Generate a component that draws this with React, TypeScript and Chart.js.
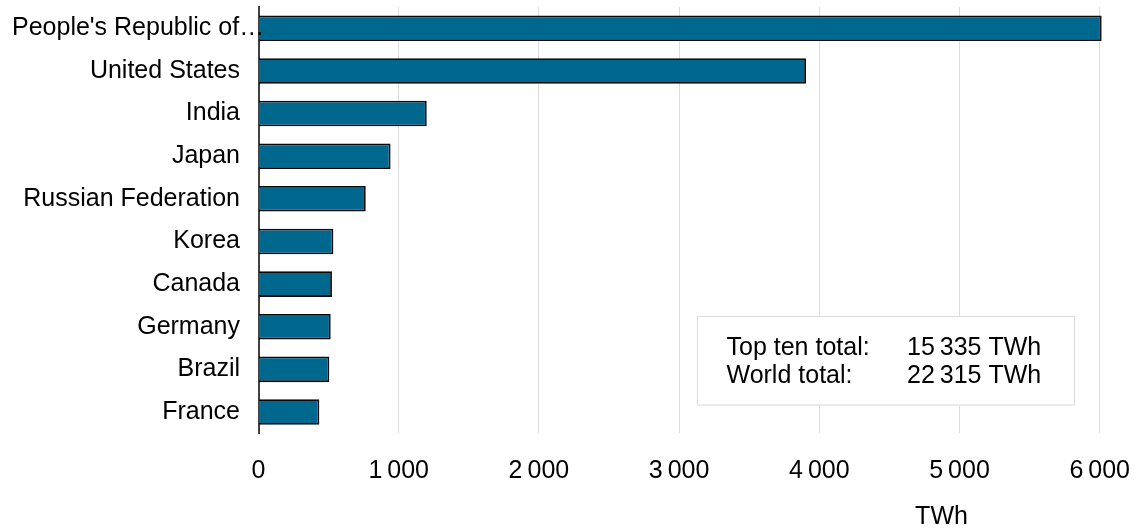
import React, { useEffect, useRef } from 'react';
import { Chart, registerables } from 'chart.js';

Chart.register(...registerables);

// ---- data ----
const categories = [
  "People's Republic of…",
  'United States',
  'India',
  'Japan',
  'Russian Federation',
  'Korea',
  'Canada',
  'Germany',
  'Brazil',
  'France',
];
const generationTWh = [6014, 3905, 1200, 942, 765, 534, 524, 515, 505, 434];
const xTickValues = [0, 1000, 2000, 3000, 4000, 5000, 6000];
const axisTitle = 'TWh';
const summaryLabels = ['Top ten total:', 'World total:'];
const summaryValues = ['15\u2009335 TWh', '22\u2009315 TWh'];

const FONT_FAMILY = "'Liberation Sans', Arial, Helvetica, sans-serif";
const FONT_SIZE = 25;
const BAR_COLOR = '#00678f';

const fmt = (v: number) => String(v).replace(/\B(?=(\d{3})+(?!\d))/g, '\u2009');

const overlayPlugin = {
  id: 'overlay',
  afterDraw(chart: any) {
    const { ctx, chartArea, scales } = chart;
    const y = scales.y;
    ctx.save();
    ctx.font = `${FONT_SIZE}px ${FONT_FAMILY}`;
    ctx.fillStyle = '#000';

    // first (truncated) category label, left aligned
    ctx.textAlign = 'left';
    ctx.textBaseline = 'middle';
    ctx.fillText(categories[0], 12, y.getPixelForTick(0));

    // summary box
    const bx = chartArea.left + 438.5;
    const by = chartArea.top + 309;
    const bw = 378;
    const bh = 89.5;
    ctx.fillStyle = '#ffffff';
    ctx.fillRect(bx, by, bw, bh);
    ctx.strokeStyle = '#dedede';
    ctx.lineWidth = 1.2;
    ctx.strokeRect(bx + 0.5, by + 0.5, bw - 1, bh - 1);
    ctx.fillStyle = '#000';
    ctx.textBaseline = 'alphabetic';
    summaryLabels.forEach((lab, i) => {
      const ty = by + 39 + i * 28.3;
      ctx.fillText(lab, bx + 29.5, ty);
      ctx.fillText(summaryValues[i], bx + 210, ty);
    });

    // axis title
    ctx.textAlign = 'center';
    ctx.fillText(axisTitle, 941.5, 523.5);
    ctx.restore();
  },
};

export default function App() {
  const canvasRef = useRef<HTMLCanvasElement | null>(null);

  useEffect(() => {
    if (!canvasRef.current) return;
    Chart.defaults.font.family = FONT_FAMILY;
    Chart.defaults.color = '#000';
    const chart = new Chart(canvasRef.current, {
      type: 'bar',
      data: {
        labels: categories,
        datasets: [
          {
            data: generationTWh,
            backgroundColor: BAR_COLOR,
            borderColor: '#0a0a0a',
            borderWidth: 1.8,
            categoryPercentage: 1,
            barPercentage: 0.6,
            clip: false,
          },
        ],
      },
      options: {
        indexAxis: 'y',
        animation: false,
        responsive: false,
        devicePixelRatio: 1,
        layout: { padding: { top: 7, right: 37.3, bottom: 0, left: 0 } },
        plugins: {
          legend: { display: false },
          tooltip: { enabled: false },
        },
        scales: {
          x: {
            type: 'linear',
            min: 0,
            max: 6000,
            afterBuildTicks: (scale: any) => {
              scale.ticks = xTickValues.map((v) => ({ value: v }));
            },
            afterFit: (scale: any) => {
              scale.height = 98.7;
              scale.paddingLeft = 0;
              scale.paddingRight = 0;
            },
            grid: {
              color: '#dcdcdc',
              lineWidth: 1,
              drawTicks: false,
            },
            border: { display: false },
            ticks: {
              padding: 23,
              maxRotation: 0,
              font: { size: FONT_SIZE, family: FONT_FAMILY },
              callback: (v: any) => fmt(Number(v)),
            },
          },
          y: {
            afterFit: (scale: any) => {
              scale.width = 258.5;
              scale.paddingTop = 0;
              scale.paddingBottom = 0;
            },
            grid: { display: false, drawTicks: false },
            border: { display: true, color: '#404040', width: 2 },
            ticks: {
              padding: 18.5,
              font: { size: FONT_SIZE, family: FONT_FAMILY },
              callback: (_v: any, i: number) => (i === 0 ? '' : categories[i]),
            },
          },
        },
      },
      plugins: [overlayPlugin],
    });
    return () => chart.destroy();
  }, []);

  return (
    <div style={{ position: 'fixed', left: 0, top: 0, width: 1137, height: 532, background: '#fff' }}>
      <canvas ref={canvasRef} width={1137} height={532} style={{ width: 1137, height: 532, display: 'block' }} />
    </div>
  );
}
